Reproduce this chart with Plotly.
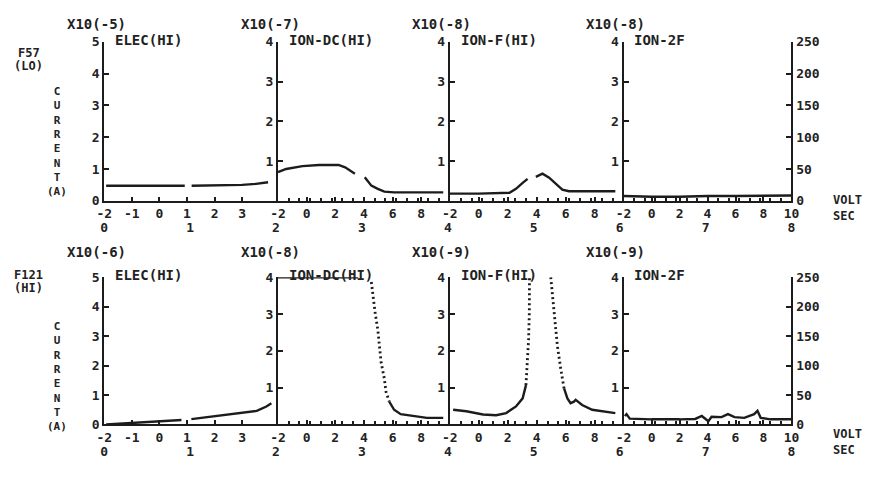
import plotly.graph_objects as go

W, H = 879, 478

# ---------------- data ----------------
SEC_TICKS = [0, 1, 2, 3, 4, 5, 6, 7, 8]
ELEC_V_TICKS = [-2, -1, 0, 1, 2, 3]
ION_V_TICKS = [-2, 0, 2, 4, 6, 8]
ION2F_V_TICKS = [-2, 0, 2, 4, 6, 8, 10]
VOLT_TICKS = [0, 50, 100, 150, 200, 250]
ELEC_I_TICKS = [0, 1, 2, 3, 4, 5]
ION_I_TICKS = [1, 2, 3, 4]

PANEL_TITLES = ["ELEC(HI)", "ION-DC(HI)", "ION-F(HI)", "ION-2F"]
TOP_EXP = ["X10(-5)", "X10(-7)", "X10(-8)", "X10(-8)"]
BOT_EXP = ["X10(-6)", "X10(-8)", "X10(-9)", "X10(-9)"]
ROW_NAMES = [("F57", "(LO)"), ("F121", "(HI)")]
Y_LABEL = list("CURRENT") + ["(A)"]
UNIT_LABEL = ["VOLT", "SEC"]

# --- top row (F57, LO) ---
top_elec_v = [-1.93, -1.0, 0.0, 0.92, None, 1.17, 2.0, 3.0, 3.5, 3.94]
top_elec_i = [0.47, 0.47, 0.47, 0.47, None, 0.47, 0.48, 0.50, 0.53, 0.58]

top_dc_v = [-2.0, -1.43, -0.29, 0.86, 2.23, 2.69, 3.37, None, 4.06, 4.52, 4.97, 5.43, 6.11, 9.54]
top_dc_i = [0.72, 0.80, 0.87, 0.90, 0.90, 0.84, 0.68, None, 0.59, 0.38, 0.30, 0.23, 0.21, 0.21]

top_f_v = [-2.0, 0.0, 2.12, 2.57, 3.03, 3.37, None, 3.94, 4.40, 4.86, 5.32, 5.77, 6.23, 9.43]
top_f_i = [0.18, 0.18, 0.20, 0.30, 0.45, 0.55, None, 0.60, 0.68, 0.58, 0.42, 0.28, 0.24, 0.24]

top_2f_v = [-2.0, 0.0, 2.0, 4.0, 6.0, 8.0, 10.0]
top_2f_i = [0.12, 0.10, 0.10, 0.12, 0.12, 0.12, 0.13]

# --- bottom row (F121, HI) ---
bot_elec_v = [-1.93, -0.98, -0.15, 0.80, None, 1.16, 2.22, 3.05, 3.53, 3.88, 4.06]
bot_elec_i = [0.00, 0.05, 0.10, 0.15, None, 0.18, 0.31, 0.39, 0.46, 0.61, 0.72]

bot_dc_sat_v = [-2.0, 3.6]
bot_dc_sat_i = [4.0, 4.0]
bot_dc_fall_v = [4.52, 4.63, 4.79, 4.97, 5.09, 5.20, 5.43, 5.54, 5.77]
bot_dc_fall_i = [3.87, 3.47, 3.02, 2.58, 2.13, 1.69, 1.24, 0.89, 0.62]
bot_dc_tail_v = [5.77, 6.11, 6.57, 7.26, 7.72, 8.40, 9.54]
bot_dc_tail_i = [0.62, 0.40, 0.28, 0.25, 0.22, 0.18, 0.18]

bot_f_rise_v = [-1.77, -0.86, 0.29, 1.20, 1.89, 2.57, 3.03, 3.26]
bot_f_rise_i = [0.40, 0.36, 0.27, 0.25, 0.31, 0.49, 0.71, 1.07]
bot_f_up_v = [3.26, 3.37, 3.44, 3.49, 3.50]
bot_f_up_i = [1.07, 1.69, 2.31, 3.02, 4.00]
bot_f_down_v = [4.97, 5.09, 5.27, 5.43, 5.66, 5.89]
bot_f_down_i = [4.00, 3.47, 2.84, 2.13, 1.51, 0.98]
bot_f_tail_v = [5.89, 6.12, 6.34, 6.57, 6.69, 7.14, 7.83, 8.50, 9.43]
bot_f_tail_i = [0.98, 0.71, 0.58, 0.62, 0.67, 0.53, 0.40, 0.36, 0.31]

bot_2f_v = [-1.91, -1.79, -1.56, 0.0, 2.0, 3.12, 3.59, 4.06, 4.29, 5.0, 5.46, 5.93, 6.63, 7.33, 7.57, 7.80, 8.50, 10.0]
bot_2f_i = [0.23, 0.28, 0.16, 0.14, 0.14, 0.15, 0.23, 0.09, 0.21, 0.20, 0.28, 0.20, 0.18, 0.28, 0.37, 0.18, 0.14, 0.14]

# ---------------- layout geometry (pixels) ----------------
PX = [98, 275, 450, 627, 798]
ROWS = [(36, 200), (279, 431)]
EXP_Y = [18, 253]
SEC_POS = [218, 449]
YLAB_CENTER = [139, 381]
UNIT_CENTER = [208, 449]

INK = "#1c1c1c"
TXT = "#222222"
FONT = "DejaVu Sans Mono"


def fx(p):
    return p / W


def fy(p):
    return 1 - p / H


fig = go.Figure()

SOLID = dict(color=INK, width=2.4)
DOTTED = dict(color=INK, width=2.8, dash="2px,3px")

series = [
    (0, top_elec_v, top_elec_i, SOLID),
    (1, top_dc_v, top_dc_i, SOLID),
    (2, top_f_v, top_f_i, SOLID),
    (3, top_2f_v, top_2f_i, SOLID),
    (4, bot_elec_v, bot_elec_i, SOLID),
    (5, bot_dc_sat_v, bot_dc_sat_i, SOLID),
    (5, bot_dc_fall_v, bot_dc_fall_i, DOTTED),
    (5, bot_dc_tail_v, bot_dc_tail_i, SOLID),
    (6, bot_f_rise_v, bot_f_rise_i, SOLID),
    (6, bot_f_up_v, bot_f_up_i, DOTTED),
    (6, bot_f_down_v, bot_f_down_i, DOTTED),
    (6, bot_f_tail_v, bot_f_tail_i, SOLID),
    (7, bot_2f_v, bot_2f_i, SOLID),
]

for k, xs, ys, ln in series:
    fig.add_trace(go.Scatter(
        x=xs, y=ys, mode="lines", line=ln, connectgaps=False,
        xaxis=f"x{k + 1}", yaxis=f"y{k + 1}", showlegend=False, hoverinfo="skip",
    ))

# helper traces so the SEC axes and right VOLT axes get drawn
for r in range(2):
    fig.add_trace(go.Scatter(x=[None], y=[None], xaxis=f"x{9 + r}", yaxis=f"y{1 + 4 * r}",
                             showlegend=False, hoverinfo="skip"))
    fig.add_trace(go.Scatter(x=[None], y=[None], xaxis=f"x{4 + 4 * r}", yaxis=f"y{9 + r}",
                             showlegend=False, hoverinfo="skip"))

tickfont = dict(family=FONT, size=13, color=TXT, weight="bold")
layout = dict(
    width=W, height=H, autosize=False,
    margin=dict(l=0, r=0, t=0, b=0, pad=0),
    paper_bgcolor="#ffffff",
    plot_bgcolor="rgba(0,0,0,0)",
    showlegend=False,
)

for r in range(2):
    top, bot = ROWS[r]
    for c in range(4):
        k = 4 * r + c + 1
        if c == 0:
            xr = [-2, 4.3]
            xtv = ELEC_V_TICKS
            minor = None
        else:
            xr = [-2, 10]
            xtv = ION2F_V_TICKS if c == 3 else ION_V_TICKS
            minor = dict(dtick=0.75, tick0=-2, ticks="inside", ticklen=3,
                         tickcolor=INK, tickwidth=1.6)
        xa = dict(
            domain=[fx(PX[c]), fx(PX[c + 1])], range=xr, anchor=f"y{k}",
            tickmode="array", tickvals=xtv, ticktext=[str(v) for v in xtv],
            ticks="inside", ticklen=4, tickwidth=2, tickcolor=INK,
            showline=True, linecolor=INK, linewidth=2.2,
            showgrid=False, zeroline=False, tickfont=tickfont, fixedrange=True,
        )
        if minor:
            xa["minor"] = minor
        layout[f"xaxis{k}"] = xa
        ytv = ELEC_I_TICKS if c == 0 else ION_I_TICKS
        layout[f"yaxis{k}"] = dict(
            domain=[fy(bot), fy(top)], range=[0, 5 if c == 0 else 4], anchor=f"x{k}",
            tickmode="array", tickvals=ytv, ticktext=[str(v) for v in ytv],
            ticks="inside", ticklen=5, tickwidth=2, tickcolor=INK,
            showline=True, linecolor=INK, linewidth=2.2,
            showgrid=False, zeroline=False, tickfont=tickfont, fixedrange=True,
        )
    layout[f"xaxis{9 + r}"] = dict(
        domain=[fx(PX[0]), fx(PX[4])], range=[0, 8], anchor="free",
        position=fy(SEC_POS[r]), tickmode="array", tickvals=SEC_TICKS,
        ticktext=[str(v) for v in SEC_TICKS], ticks="", showline=False,
        showgrid=False, zeroline=False, tickfont=tickfont, fixedrange=True,
    )
    layout[f"yaxis{9 + r}"] = dict(
        overlaying=f"y{4 + 4 * r}", side="right", anchor=f"x{4 + 4 * r}",
        range=[0, 250], tickmode="array", tickvals=VOLT_TICKS,
        ticktext=[str(v) for v in VOLT_TICKS], ticks="inside", ticklen=5,
        tickwidth=2, tickcolor=INK, showline=True, linecolor=INK, linewidth=2.2,
        showgrid=False, zeroline=False, tickfont=tickfont, fixedrange=True,
    )

fig.update_layout(**layout)

afont = dict(family=FONT, size=14, color=TXT, weight="bold")
lfont = dict(family=FONT, size=12, color=TXT, weight="bold")
sfont = dict(family=FONT, size=12, color=TXT, weight="bold")
yfont = dict(family=FONT, size=11, color=TXT, weight="bold")
ann = []
for r in range(2):
    top, bot = ROWS[r]
    exps = TOP_EXP if r == 0 else BOT_EXP
    for c in range(4):
        ann.append(dict(text=exps[c], x=fx(PX[c] - 8), y=fy(EXP_Y[r]), xref="paper", yref="paper",
                        xanchor="center", yanchor="middle", showarrow=False, font=afont))
        ann.append(dict(text=PANEL_TITLES[c], x=fx(PX[c] + 9), y=fy(top - 2), xref="paper", yref="paper",
                        xanchor="left", yanchor="middle", showarrow=False, font=afont))
    name, mode = ROW_NAMES[r]
    ny = 48 if r == 0 else 277
    ann.append(dict(text=name, x=fx(21), y=fy(ny), xref="paper", yref="paper",
                    xanchor="center", yanchor="middle", showarrow=False, font=sfont))
    ann.append(dict(text=mode, x=fx(21), y=fy(ny + 13), xref="paper", yref="paper",
                    xanchor="center", yanchor="middle", showarrow=False, font=sfont))
    ann.append(dict(text="<br>".join(Y_LABEL), x=fx(50), y=fy(YLAB_CENTER[r]),
                    xref="paper", yref="paper", xanchor="center", yanchor="middle",
                    align="center", showarrow=False, font=yfont))
    ann.append(dict(text="<br>".join(UNIT_LABEL), x=fx(838), y=fy(UNIT_CENTER[r]),
                    xref="paper", yref="paper", xanchor="left", yanchor="middle",
                    align="left", showarrow=False, font=lfont))

fig.update_layout(annotations=ann)

PAGE_JS = (
    "document.documentElement.style.margin='0';document.documentElement.style.padding='0';"
    "document.documentElement.style.overflow='hidden';"
    "document.body.style.margin='0';document.body.style.padding='0';document.body.style.overflow='hidden';"
    "var gd=document.getElementById('{plot_id}');gd.style.position='fixed';"
    "gd.style.left='0px';gd.style.top='0px';"
)
fig.write_html("out.html", config={"displayModeBar": False}, post_script=PAGE_JS)
